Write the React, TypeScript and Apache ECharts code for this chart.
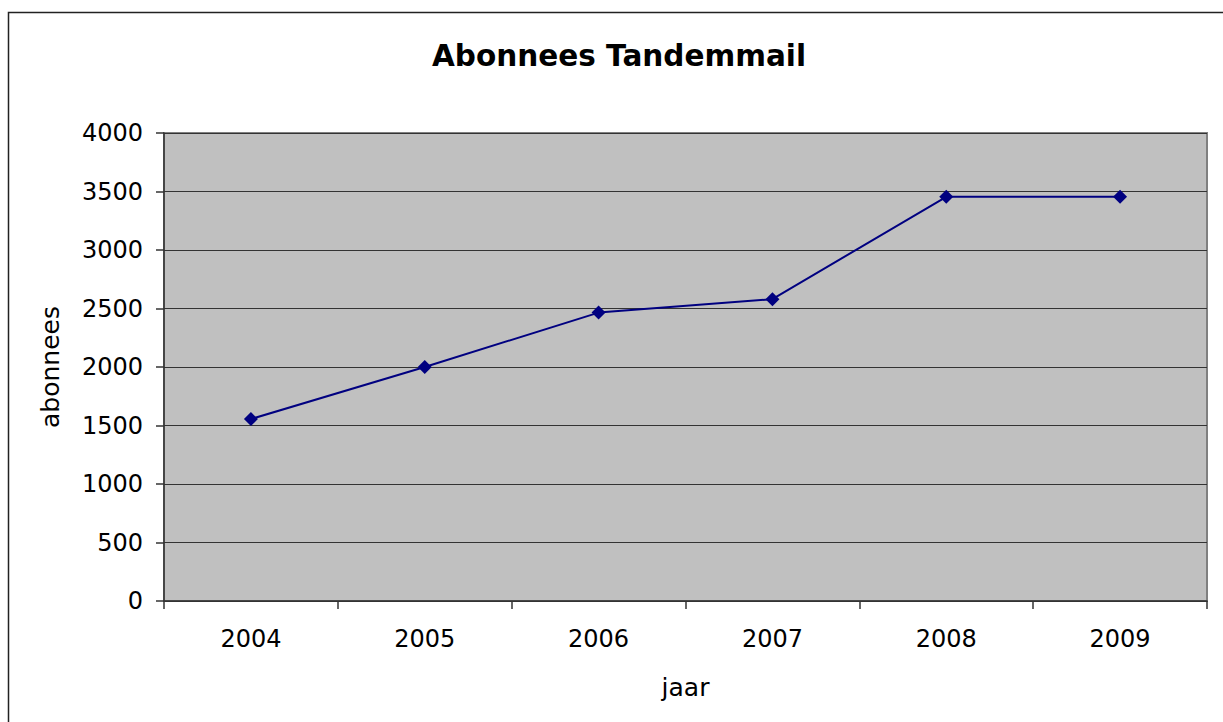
import React, { useEffect, useRef } from "react";
import * as echarts from "echarts";

const years = ["2004", "2005", "2006", "2007", "2008", "2009"];
const subscribers = [1555, 2000, 2465, 2580, 3455, 3455];
const yTicks = { min: 0, max: 4000, interval: 500 };
const titleText = "Abonnees Tandemmail";
const xName = "jaar";
const yName = "abonnees";

export default function App() {
  const ref = useRef<HTMLDivElement>(null);
  useEffect(() => {
    if (!ref.current) return;
    const chart = echarts.init(ref.current, null, { renderer: "svg" });
    const font = "'DejaVu Sans', Verdana, sans-serif";
    chart.setOption({
      animation: false,
      backgroundColor: "#ffffff",
      title: {
        text: titleText,
        left: 427,
        top: 36,
        textStyle: { fontFamily: font, fontSize: 29.5, fontWeight: "bold", color: "#000" },
      },
      graphic: [
        {
          type: "rect",
          z: -1,
          shape: { x: 8.5, y: 12.5, width: 1260, height: 760 },
          style: { fill: "none", stroke: "#222", lineWidth: 1.5 },
          silent: true,
        },
      ],
      grid: {
        left: 164,
        top: 133,
        right: 16,
        bottom: 121,
        show: true,
        backgroundColor: "#c0c0c0",
        borderColor: "#808080",
        borderWidth: 2,
      },
      xAxis: {
        type: "category",
        data: years,
        boundaryGap: true,
        name: xName,
        nameLocation: "middle",
        nameGap: 74,
        nameTextStyle: { fontFamily: font, fontSize: 25, color: "#000" },
        axisLine: { show: true, lineStyle: { color: "#333", width: 1.5 } },
        axisTick: { show: true, alignWithLabel: false, length: 8, lineStyle: { color: "#333", width: 1.5 } },
        axisLabel: { fontFamily: font, fontSize: 24, color: "#000", margin: 26 },
        splitLine: { show: false },
      },
      yAxis: {
        type: "value",
        min: yTicks.min,
        max: yTicks.max,
        interval: yTicks.interval,
        name: yName,
        nameLocation: "middle",
        nameGap: 101,
        nameRotate: 90,
        nameTextStyle: { fontFamily: font, fontSize: 25, color: "#000" },
        axisLine: { show: true, lineStyle: { color: "#333", width: 1.5 } },
        axisTick: { show: true, length: 8, lineStyle: { color: "#333", width: 1.5 } },
        axisLabel: {
          fontFamily: font,
          fontSize: 24,
          color: "#000",
          margin: 21,
          formatter: (v: number) => String(v),
        },
        splitLine: { show: true, lineStyle: { color: "#333", width: 1.2 } },
      },
      series: [
        {
          type: "line",
          data: subscribers,
          symbol: "diamond",
          symbolSize: 14,
          showSymbol: true,
          lineStyle: { color: "#000080", width: 2 },
          itemStyle: { color: "#000080" },
        },
      ],
    });
    return () => chart.dispose();
  }, []);
  return (
    <div
      ref={ref}
      style={{ position: "absolute", left: 0, top: 0, width: 1223, height: 722 }}
    />
  );
}
